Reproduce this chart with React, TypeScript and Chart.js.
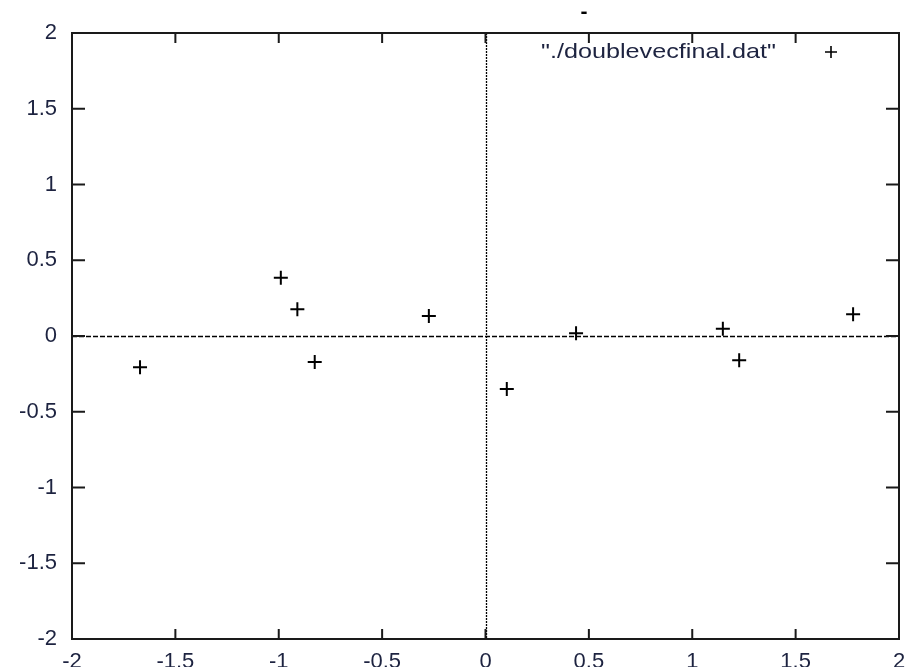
import React, { useEffect, useRef } from 'react';
import { Chart, registerables } from 'chart.js';

Chart.register(...registerables);

// ---- data ----
const xValues = [-1.671, -0.99, -0.91, -0.826, -0.274, 0.103, 0.438, 1.148, 1.227, 1.778];
const yValues = [-0.207, 0.385, 0.176, -0.172, 0.132, -0.35, 0.018, 0.048, -0.16, 0.143];
const tickValues = [-2, -1.5, -1, -0.5, 0, 0.5, 1, 1.5, 2];
const tickLabels = ['-2', '-1.5', '-1', '-0.5', '0', '0.5', '1', '1.5', '2'];
const seriesLabel = '"./doublevecfinal.dat"';
const titleText = '-';

const TEXT_COLOR = '#1d2340';
const tickLabel = (v: number | string) => {
  const i = tickValues.indexOf(Number(v));
  return i >= 0 ? tickLabels[i] : '';
};

const gnuPlugin = {
  id: 'gnuFrame',
  beforeDatasetsDraw(chart: any) {
    const { ctx, chartArea: a, scales } = chart;
    const x0 = scales.x.getPixelForValue(0);
    const y0 = scales.y.getPixelForValue(0);
    ctx.save();
    ctx.strokeStyle = '#000';
    ctx.lineWidth = 1.3;
    // horizontal zero axis (dashed)
    ctx.setLineDash([5, 2]);
    ctx.beginPath();
    ctx.moveTo(a.left, Math.round(y0) + 0.5);
    ctx.lineTo(a.right, Math.round(y0) + 0.5);
    ctx.stroke();
    // vertical zero axis (dotted)
    ctx.setLineDash([2, 1]);
    ctx.beginPath();
    ctx.moveTo(Math.round(x0) + 0.5, a.top);
    ctx.lineTo(Math.round(x0) + 0.5, a.bottom);
    ctx.stroke();
    ctx.restore();
  },
  afterDatasetsDraw(chart: any) {
    const { ctx, chartArea: a, scales } = chart;
    ctx.save();
    ctx.strokeStyle = '#1a1a1a';
    ctx.lineWidth = 2;
    ctx.setLineDash([]);
    // frame
    ctx.strokeRect(a.left, a.top, a.right - a.left, a.bottom - a.top);
    // inward ticks on all sides
    ctx.beginPath();
    tickValues.forEach((v) => {
      const px = scales.x.getPixelForValue(v);
      ctx.moveTo(px, a.bottom);
      ctx.lineTo(px, a.bottom - 10);
      ctx.moveTo(px, a.top);
      ctx.lineTo(px, a.top + 10);
      const py = scales.y.getPixelForValue(v);
      ctx.moveTo(a.left, py);
      ctx.lineTo(a.left + 13, py);
      ctx.moveTo(a.right, py);
      ctx.lineTo(a.right - 13, py);
    });
    ctx.stroke();

    // legend
    ctx.font = '21px "Liberation Sans", Arial, sans-serif';
    ctx.fillStyle = TEXT_COLOR;
    ctx.textBaseline = 'middle';
    ctx.textAlign = 'right';
    const lx = 776;
    const ly = 52;
    ctx.save();
    ctx.translate(lx, ly);
    ctx.scale(1.2, 1);
    ctx.fillText(seriesLabel, 0, 0);
    ctx.restore();
    ctx.strokeStyle = '#000';
    ctx.lineWidth = 1.6;
    ctx.beginPath();
    ctx.moveTo(825, ly);
    ctx.lineTo(837, ly);
    ctx.moveTo(831, ly - 6);
    ctx.lineTo(831, ly + 6);
    ctx.stroke();

    // small title mark
    ctx.textAlign = 'center';
    ctx.fillStyle = '#000';
    ctx.font = 'bold 21px "Liberation Sans", Arial, sans-serif';
    ctx.fillText(titleText, 584, 12);
    ctx.restore();
  },
};

export default function App() {
  const canvasRef = useRef<HTMLCanvasElement | null>(null);

  useEffect(() => {
    if (!canvasRef.current) return;
    const tickFont = { family: '"Liberation Sans", Arial, sans-serif', size: 22 };
    const chart = new Chart(canvasRef.current, {
      type: 'scatter',
      data: {
        datasets: [
          {
            label: seriesLabel,
            data: xValues.map((x, i) => ({ x, y: yValues[i] })),
            pointStyle: 'cross',
            pointRadius: 7,
            pointHoverRadius: 7,
            borderColor: '#000',
            backgroundColor: '#000',
            borderWidth: 2,
          },
        ],
      },
      options: {
        animation: false,
        responsive: true,
        maintainAspectRatio: false,
        layout: { padding: { left: 0, top: 33, right: 8, bottom: 0 } },
        plugins: {
          legend: { display: false },
          tooltip: { enabled: false },
          title: { display: false },
        },
        scales: {
          x: {
            type: 'linear',
            min: -2,
            max: 2,
            grid: { display: false, drawTicks: false },
            border: { display: false },
            ticks: {
              stepSize: 0.5,
              padding: 10,
              color: TEXT_COLOR,
              font: tickFont,
              maxRotation: 0,
              autoSkip: false,
              callback: (v: any) => tickLabel(v),
            },
            afterFit: (s: any) => {
              s.height = 28;
              s.paddingLeft = 0;
              s.paddingRight = 0;
            },
          },
          y: {
            type: 'linear',
            min: -2,
            max: 2,
            grid: { display: false, drawTicks: false },
            border: { display: false },
            ticks: {
              stepSize: 0.5,
              padding: 15,
              color: TEXT_COLOR,
              font: tickFont,
              autoSkip: false,
              callback: (v: any) => tickLabel(v),
            },
            afterFit: (s: any) => {
              s.width = 72;
              s.paddingTop = 0;
              s.paddingBottom = 0;
            },
          },
        },
      },
      plugins: [gnuPlugin],
    });
    return () => chart.destroy();
  }, []);

  return (
    <div style={{ position: 'absolute', left: 0, top: 0, width: 908, height: 667, background: '#fff' }}>
      <canvas ref={canvasRef} />
    </div>
  );
}
